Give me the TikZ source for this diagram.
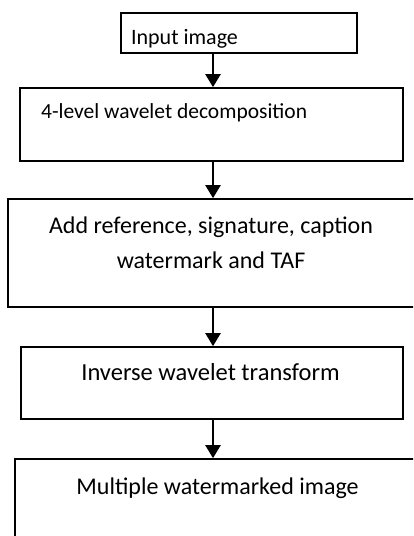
\documentclass[tikz,border=0pt]{standalone}
\usepackage{fontspec}
\setmainfont{Carlito}
\usetikzlibrary{arrows.meta}

\begin{document}
\begin{tikzpicture}[x=1pt,y=-1pt,
	stepbox/.style={draw,line width=1.7pt,rectangle,inner sep=0pt},
	flow/.style={-{Triangle[width=15pt,length=13pt]},line width=2.3pt},
	lbl/.style={inner sep=0pt,anchor=base,font=\fontsize{24}{35}\selectfont}]
	\useasboundingbox (0,0) rectangle (413,536);
	\clip (0,0) rectangle (413,536);
	% boxes of the flow chart
	\node[stepbox,minimum width=236pt,minimum height=40pt] (input) at (239,33) {};
	\node[stepbox,minimum width=383pt,minimum height=73pt] (decomp) at (211.5,124.5) {};
	\node[stepbox,minimum width=412pt,minimum height=108pt] (embed) at (214,253) {};
	\node[stepbox,minimum width=382pt,minimum height=72pt] (inverse) at (212,383) {};
	\node[stepbox,minimum width=405pt,minimum height=101pt] (output) at (217.5,509.5) {};
	% texts
	\begin{scope}
		\clip (0,0) rectangle (413,47.5);
		\node[lbl,font=\fontsize{22}{26}\selectfont] (tinput) at (184.5,44) {Input image};
	\end{scope}
	\node[lbl,anchor=base west,font=\fontsize{21.5}{26}\selectfont] (tdecomp) at (41,118) {4-level wavelet decomposition};
	\node[lbl,align=center] (tembed) at (211,268) {Add reference, signature, caption\\watermark and TAF};
	\node[lbl,font=\fontsize{24.5}{30}\selectfont] (tinverse) at (210.5,380) {Inverse wavelet transform};
	\node[lbl] (toutput) at (217.5,494) {Multiple watermarked image};
	% arrows
	\coordinate (axis) at (213,0);
	\draw[flow] (input.south -| axis) -- (decomp.north -| axis);
	\draw[flow] (decomp.south -| axis) -- (embed.north -| axis);
	\draw[flow] (embed.south -| axis) -- (inverse.north -| axis);
	\draw[flow] (inverse.south -| axis) -- (output.north -| axis);
\end{tikzpicture}
\end{document}
